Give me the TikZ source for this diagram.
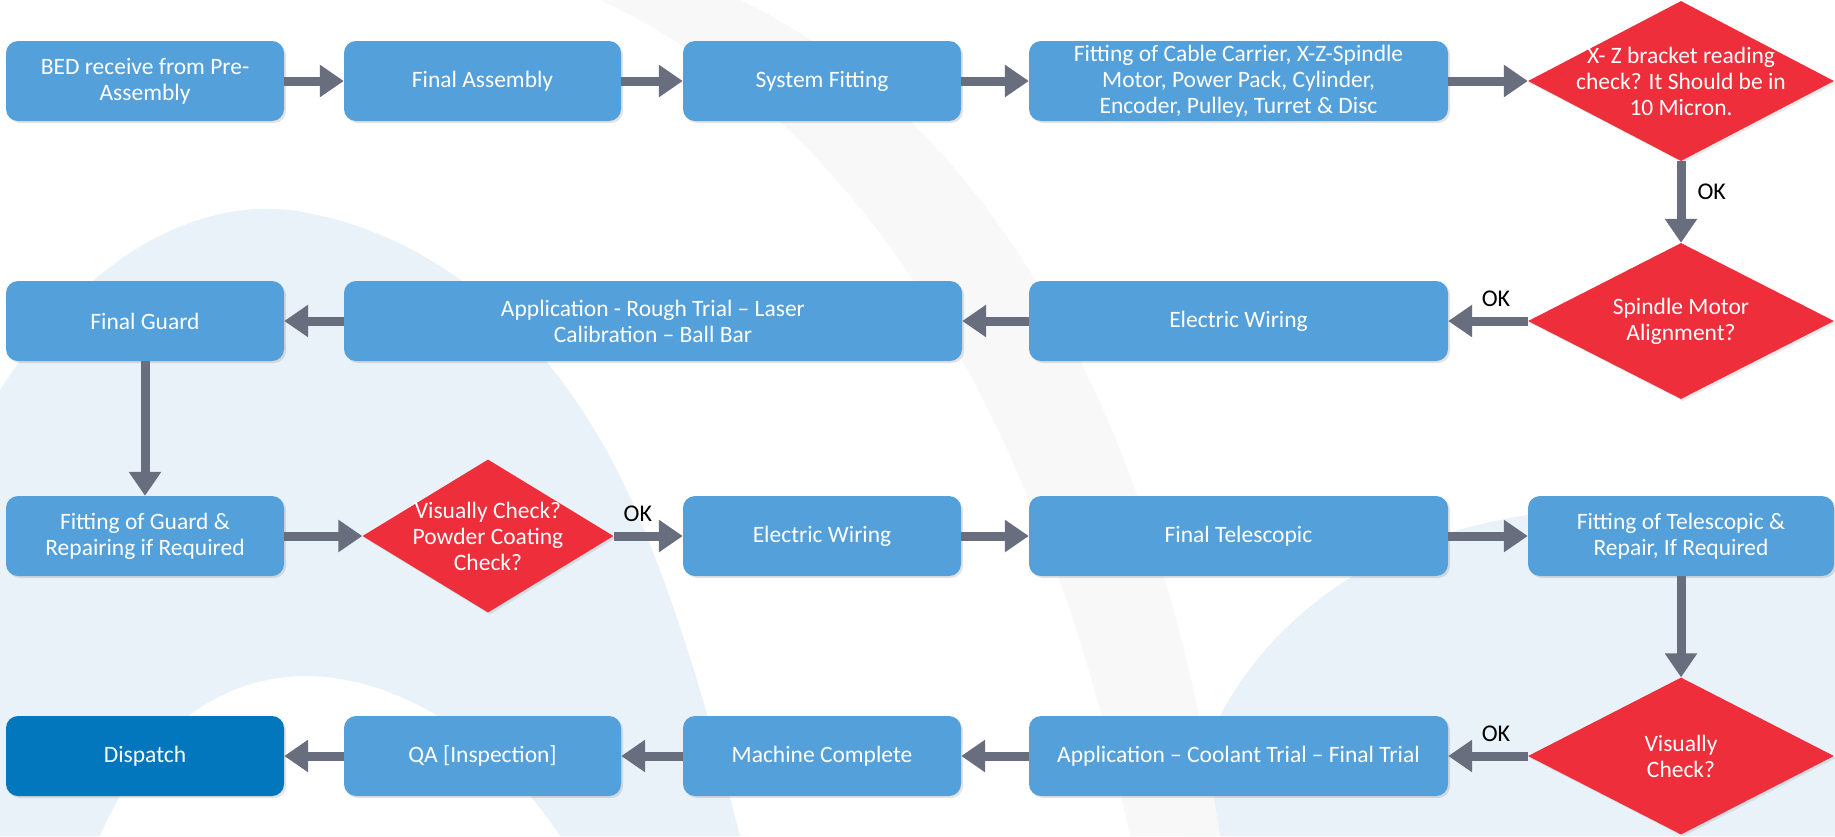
\documentclass[tikz,border=0pt]{standalone}
\usepackage{fontspec}
\setmainfont{Carlito}
\usetikzlibrary{arrows.meta,shapes.geometric,shadows}
\definecolor{boxblue}{RGB}{84,160,219}
\definecolor{darkblue}{RGB}{2,119,189}
\definecolor{dred}{RGB}{238,46,58}
\definecolor{agray}{RGB}{104,110,126}
\definecolor{wmblue}{RGB}{233,242,248}
\definecolor{wmgray}{RGB}{248,248,249}
\begin{document}
\begin{tikzpicture}[x=1pt,y=-1pt,
  proc/.style={rectangle, rounded corners=12pt, fill=boxblue, text=white,
    minimum height=80pt, align=center, inner sep=0pt,
    font=\fontsize{23.5}{26}\selectfont,
    drop shadow={opacity=0.22, shadow xshift=2pt, shadow yshift=-2pt}},
  dia/.style={diamond, fill=dred, inner sep=0pt,
    drop shadow={opacity=0.18, shadow xshift=2pt, shadow yshift=-2pt}},
  dtext/.style={text=white, align=center, inner sep=0pt,
    font=\fontsize{23.5}{26}\selectfont},
  flow/.style={draw=agray, line width=9pt, -{Triangle[width=31pt,length=24pt]}},
  oklbl/.style={text=black, inner sep=0pt, font=\fontsize{24}{26}\selectfont}]
\useasboundingbox (0,0) rectangle (1835,836);
\fill[white] (0,0) rectangle (1835,836);
% faint watermark
\begin{scope}
\clip (0,0) rectangle (1835,836);
\fill[wmblue] (0,390) .. controls (90,250) and (200,200) .. (290,210)
  .. controls (430,230) and (560,330) .. (640,520)
  .. controls (690,640) and (720,760) .. (740,836) -- (0,836) -- cycle;
\fill[white] (100,836) .. controls (150,720) and (230,675) .. (310,676)
  .. controls (420,680) and (510,760) .. (560,836) -- cycle;
\fill[wmblue] (1180,836) .. controls (1200,700) and (1300,560) .. (1500,520)
  .. controls (1650,490) and (1780,500) .. (1835,510) -- (1835,836) -- cycle;
\fill[wmgray] (600,0) .. controls (880,130) and (1050,450) .. (1130,836)
  -- (1220,836) .. controls (1160,420) and (990,120) .. (740,0) -- cycle;
\end{scope}
% row 1
\node[proc, minimum width=278pt] (bed) at (145,81) {BED receive from Pre-\\Assembly};
\node[proc, minimum width=277pt] (fa) at (482.5,81) {Final Assembly};
\node[proc, minimum width=278pt] (sf) at (822,81) {System Fitting};
\node[proc, minimum width=419pt] (fit) at (1238.5,81) {Fitting of Cable Carrier, X-Z-Spindle\\Motor, Power Pack, Cylinder,\\Encoder, Pulley, Turret \& Disc};
\node[dia, minimum width=306pt, minimum height=160pt] (d1) at (1681,81) {};
\node[dtext] (d1t) at (d1.center) {X- Z bracket reading\\check? It Should be in\\10 Micron.};
% row 2
\node[dia, minimum width=306pt, minimum height=156pt] (d2) at (1681,321) {};
\node[dtext] (d2t) at (d2.center) {Spindle Motor\\Alignment?};
\node[proc, minimum width=419pt] (ew1) at (1238.5,321) {Electric Wiring};
\node[proc, minimum width=618pt] (app) at (653,321) {Application - Rough Trial – Laser\\Calibration – Ball Bar};
\node[proc, minimum width=278pt] (fg) at (145,321) {Final Guard};
% row 3
\node[proc, minimum width=278pt] (fgr) at (145,536) {Fitting of Guard \&\\Repairing if Required};
\node[dia, minimum width=251pt, minimum height=153pt] (d3) at (488,536) {};
\node[dtext] (d3t) at (d3.center) {Visually Check?\\Powder Coating\\Check?};
\node[proc, minimum width=278pt] (ew2) at (822,536) {Electric Wiring};
\node[proc, minimum width=419pt] (ft) at (1238.5,536) {Final Telescopic};
\node[proc, minimum width=306pt] (fts) at (1681,536) {Fitting of Telescopic \&\\Repair, If Required};
% row 4
\node[dia, minimum width=306pt, minimum height=157pt] (d4) at (1681,756) {};
\node[dtext] (d4t) at (d4.center) {Visually\\Check?};
\node[proc, minimum width=419pt] (acft) at (1238.5,756) {Application – Coolant Trial – Final Trial};
\node[proc, minimum width=278pt] (mc) at (822,756) {Machine Complete};
\node[proc, minimum width=277pt] (qa) at (482.5,756) {QA [Inspection]};
\node[proc, minimum width=278pt, fill=darkblue] (disp) at (145,756) {Dispatch};
% connectors
\draw[flow] (bed.east) -- (fa.west);
\draw[flow] (fa.east) -- (sf.west);
\draw[flow] (sf.east) -- (fit.west);
\draw[flow] (fit.east) -- (d1.west);
\draw[flow] (d1.south) -- node[oklbl, pos=0.38, right=12pt] (ok1) {OK} (d2.north);
\draw[flow] (d2.west) -- node[oklbl, pos=0.4, above=10pt] (ok2) {OK} (ew1.east);
\draw[flow] (ew1.west) -- (app.east);
\draw[flow] (app.west) -- (fg.east);
\draw[flow] (fg.south) -- (fgr.north);
\draw[flow] (fgr.east) -- (d3.west);
\draw[flow] (d3.east) -- node[oklbl, pos=0.35, above=10pt] (ok3) {OK} (ew2.west);
\draw[flow] (ew2.east) -- (ft.west);
\draw[flow] (ft.east) -- (fts.west);
\draw[flow] (fts.south) -- (d4.north);
\draw[flow] (d4.west) -- node[oklbl, pos=0.4, above=10pt] (ok4) {OK} (acft.east);
\draw[flow] (acft.west) -- (mc.east);
\draw[flow] (mc.west) -- (qa.east);
\draw[flow] (qa.west) -- (disp.east);
\end{tikzpicture}
\end{document}
